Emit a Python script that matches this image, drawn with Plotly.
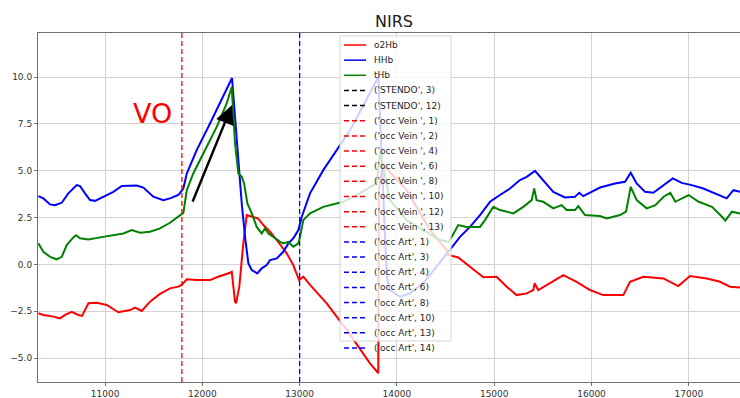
import plotly.graph_objects as go

# ---------------- data ----------------
t_o2hb = [10315, 10366, 10469, 10538, 10589, 10658, 10726, 10764, 10829, 10915, 11017, 11137,
          11257, 11308, 11377, 11462, 11565, 11668, 11753, 11788, 11840, 11942, 12079, 12148,
          12285, 12302, 12336, 12346, 12380, 12421, 12456, 12524, 12572, 12627, 12696, 12765,
          12867, 12935, 12994, 13038, 13107, 13278, 13484, 13723, 13791, 13808, 13815, 13850,
          13895, 14101, 14340, 14512, 14528, 14630, 14751, 14888, 15025, 15128, 15230, 15334,
          15401, 15415, 15452, 15573, 15710, 15847, 15984, 16121, 16327, 16395, 16532, 16738,
          16892, 17012, 17184, 17321, 17423, 17526]
o2hb = [-2.61, -2.70, -2.79, -2.88, -2.70, -2.53, -2.70, -2.75, -2.08, -2.05, -2.17, -2.56,
        -2.44, -2.31, -2.49, -1.99, -1.58, -1.28, -1.19, -1.10, -0.80, -0.84, -0.84, -0.69,
        -0.45, -0.39, -1.99, -2.08, -1.19, 1.12, 2.63, 2.54, 2.45, 2.10, 1.74, 1.30,
        0.59, -0.04, -0.84, -0.66, -1.10, -2.08, -3.50, -5.28, -5.73, -5.81, 4.0, 5.2,
        5.1, 3.96, 1.83, 0.76, 0.50, 0.37, -0.13, -0.69, -0.66, -1.19, -1.64, -1.55,
        -1.37, -1.01, -1.37, -1.01, -0.57, -0.93, -1.37, -1.64, -1.64, -0.93, -0.66, -0.75,
        -1.16, -0.62, -0.75, -0.93, -1.19, -1.23]

t_hhb = [10315, 10366, 10435, 10486, 10555, 10623, 10709, 10743, 10794, 10846, 10897, 10983,
         11085, 11172, 11257, 11326, 11394, 11445, 11496, 11599, 11668, 11753, 11788, 11805,
         11840, 11942, 12079, 12216, 12305, 12336, 12370, 12405, 12439, 12473, 12508, 12565,
         12610, 12662, 12696, 12765, 12832, 12884, 12935, 12987, 13022, 13107, 13243, 13381,
         13518, 13662, 13809, 13895, 13929, 14032, 14134, 14271, 14409, 14512, 14528, 14648,
         14751, 14854, 14957, 15059, 15162, 15265, 15334, 15419, 15504, 15607, 15727, 15830,
         15874, 15915, 16087, 16241, 16344, 16403, 16464, 16550, 16635, 16738, 16835, 16927,
         17030, 17149, 17269, 17389, 17458, 17526]
hhb = [3.64, 3.52, 3.20, 3.16, 3.29, 3.79, 4.23, 4.18, 3.79, 3.43, 3.39, 3.61,
       3.87, 4.18, 4.18, 4.21, 4.10, 3.87, 3.61, 3.43, 3.52, 3.70, 3.93, 4.05,
       4.85, 6.10, 7.52, 8.94, 9.95, 7.87, 5.56, 3.25, 1.47, 0.05, -0.30, -0.48,
       -0.21, -0.04, 0.23, 0.32, 0.67, 1.12, 1.39, 1.83, 2.54, 3.79, 5.03, 6.10,
       7.16, 8.55, 10.0, -0.66, -1.37, -1.73, -1.55, -1.01, -0.13, 0.59, 0.67, 1.47,
       2.00, 2.63, 3.34, 3.70, 4.05, 4.50, 4.67, 4.99, 4.50, 3.87, 3.57, 3.61,
       3.82, 3.64, 4.10, 4.32, 4.41, 4.89, 4.32, 3.87, 3.82, 4.23, 4.59, 4.35,
       4.23, 4.05, 3.79, 3.52, 3.96, 3.87]

t_thb = [10315, 10366, 10435, 10503, 10555, 10606, 10674, 10702, 10743, 10829, 10949, 11085,
         11188, 11274, 11360, 11462, 11565, 11668, 11753, 11788, 11805, 11840, 11907, 12010,
         12148, 12250, 12302, 12336, 12370, 12405, 12429, 12463, 12508, 12559, 12610, 12644,
         12679, 12730, 12799, 12833, 12884, 12935, 12987, 13004, 13038, 13107, 13243, 13449,
         13620, 13791, 13826, 13929, 14101, 14271, 14443, 14528, 14546, 14630, 14716, 14854,
         14905, 14991, 15059, 15196, 15299, 15385, 15411, 15436, 15504, 15607, 15693, 15744,
         15830, 15864, 15933, 16087, 16156, 16293, 16355, 16403, 16464, 16567, 16656, 16741,
         16810, 16861, 16998, 17101, 17238, 17341, 17375, 17444, 17526]
thb = [1.12, 0.67, 0.40, 0.27, 0.40, 1.03, 1.44, 1.55, 1.39, 1.33, 1.44, 1.56,
       1.65, 1.83, 1.69, 1.74, 1.92, 2.22, 2.54, 2.72, 2.75, 3.96, 4.85, 5.92,
       7.34, 8.59, 9.47, 6.45, 4.85, 4.67, 4.32, 3.25, 2.72, 2.00, 1.65, 1.92,
       1.65, 1.47, 1.20, 1.12, 1.20, 0.94, 1.12, 1.47, 2.36, 2.72, 3.07, 3.34,
       3.80, 4.32, 6.00, 3.43, 2.36, 1.83, 1.30, 1.20, 1.30, 2.10, 2.00, 2.00,
       2.36, 3.07, 2.90, 2.72, 3.07, 3.43, 4.05, 3.43, 3.34, 2.99, 3.16, 2.90,
       2.90, 3.11, 2.63, 2.58, 2.45, 2.63, 2.81, 4.14, 3.43, 2.99, 3.16, 3.61,
       3.82, 3.34, 3.70, 3.34, 3.07, 2.54, 2.33, 2.81, 2.72]

series_names = ["o2Hb", "HHb", "tHb"]
series_colors = ["#ff0000", "#0000ff", "#008000"]

stendo_ids = [3, 12]
vein_ids = [1, 2, 4, 6, 8, 10, 12, 13]
art_ids = [1, 3, 4, 6, 8, 10, 13, 14]
vein_events = [11790]
art_events = [13000]

x_ticks = [11000, 12000, 13000, 14000, 15000, 16000, 17000]
y_ticks = [-5.0, -2.5, 0.0, 2.5, 5.0, 7.5, 10.0]

# ---------------- figure ----------------
W, H = 740, 398
ML, MR, MT, MB = 38, 0, 33, 16
PW, PH = W - ML - MR, H - MT - MB

def px_x(px):
    return (px - ML) / PW

def px_y(py):
    return (H - MB - py) / PH

fig = go.Figure()
for t, v, name, col in zip([t_o2hb, t_hhb, t_thb], [o2hb, hhb, thb], series_names, series_colors):
    fig.add_trace(go.Scatter(x=t, y=v, mode="lines", name=name,
                             line=dict(color=col, width=2), showlegend=False))

shapes = []
for xv in vein_events:
    shapes.append(dict(type="line", xref="x", yref="paper", x0=xv, x1=xv, y0=0, y1=1,
                       line=dict(color="#ff0000", width=1.3, dash="5px,3px"), layer="above"))
for xv in art_events:
    shapes.append(dict(type="line", xref="x", yref="paper", x0=xv, x1=xv, y0=0, y1=1,
                       line=dict(color="#0000ff", width=1.3, dash="5px,3px"), layer="above"))

# custom legend (matplotlib-like)
entries = [(n, c, "solid") for n, c in zip(series_names, series_colors)]
entries += [(f"('STENDO', {i})", "#000000", "5px,3px") for i in stendo_ids]
entries += [(f"('occ Vein ', {i})", "#ff0000", "5px,3px") for i in vein_ids]
entries += [(f"('occ Art', {i})", "#0000ff", "5px,3px") for i in art_ids]

shapes.append(dict(type="rect", xref="paper", yref="paper",
                   x0=px_x(340), x1=px_x(451), y0=px_y(341), y1=px_y(36),
                   fillcolor="rgba(255,255,255,0.8)", line=dict(color="#d6d6d6", width=1),
                   layer="above"))
annotations = []
y0, step = 45.0, 15.15
for k, (lab, col, dash) in enumerate(entries):
    yy = px_y(y0 + k * step)
    shapes.append(dict(type="line", xref="paper", yref="paper", x0=px_x(344), x1=px_x(366),
                       y0=yy, y1=yy, line=dict(color=col, width=1.5, dash=dash), layer="above"))
    annotations.append(dict(xref="paper", yref="paper", x=px_x(372), y=yy, text=lab,
                            showarrow=False, xanchor="left", yanchor="middle",
                            font=dict(family="DejaVu Sans", size=9, color="#262626")))

annotations.append(dict(x=11488, y=8.07, xref="x", yref="y", text="VO", showarrow=False,
                        font=dict(family="DejaVu Sans", size=27, color="#ff0000")))
annotations.append(dict(x=12305, y=8.5, xref="x", yref="y", ax=11894, ay=3.27,
                        axref="x", ayref="y", text="", showarrow=True, arrowhead=2,
                        arrowsize=1.5, arrowwidth=2.5, arrowcolor="#000000", standoff=0))

fig.update_layout(
    width=W, height=H, autosize=False,
    margin=dict(l=ML, r=MR, t=MT, b=MB),
    paper_bgcolor="white", plot_bgcolor="white",
    title=dict(text="NIRS", x=px_x(394), xref="paper", xanchor="center",
               y=1 - 21 / H, yanchor="middle",
               font=dict(family="DejaVu Sans", size=16, color="#1a1a1a")),
    font=dict(family="DejaVu Sans", size=9, color="#333333"),
    shapes=shapes, annotations=annotations, showlegend=False,
    xaxis=dict(range=[10311, 17526], tickvals=x_ticks, tickformat="d",
               showgrid=True, gridcolor="#d3d3d3", gridwidth=1, zeroline=False,
               showline=True, linecolor="#707070", linewidth=1, mirror=True,
               ticks="outside", ticklen=3, tickcolor="#707070", automargin=False),
    yaxis=dict(range=[-6.28, 12.35], tickvals=y_ticks, tickformat=".1f",
               showgrid=True, gridcolor="#d3d3d3", gridwidth=1, zeroline=False,
               showline=True, linecolor="#707070", linewidth=1,
               ticks="outside", ticklen=3, tickcolor="#707070", automargin=False),
)

fig.write_html("out.html", config={"displayModeBar": False},
               post_script="document.body.style.margin='0';document.body.style.padding='0';document.body.style.overflow='hidden';")
